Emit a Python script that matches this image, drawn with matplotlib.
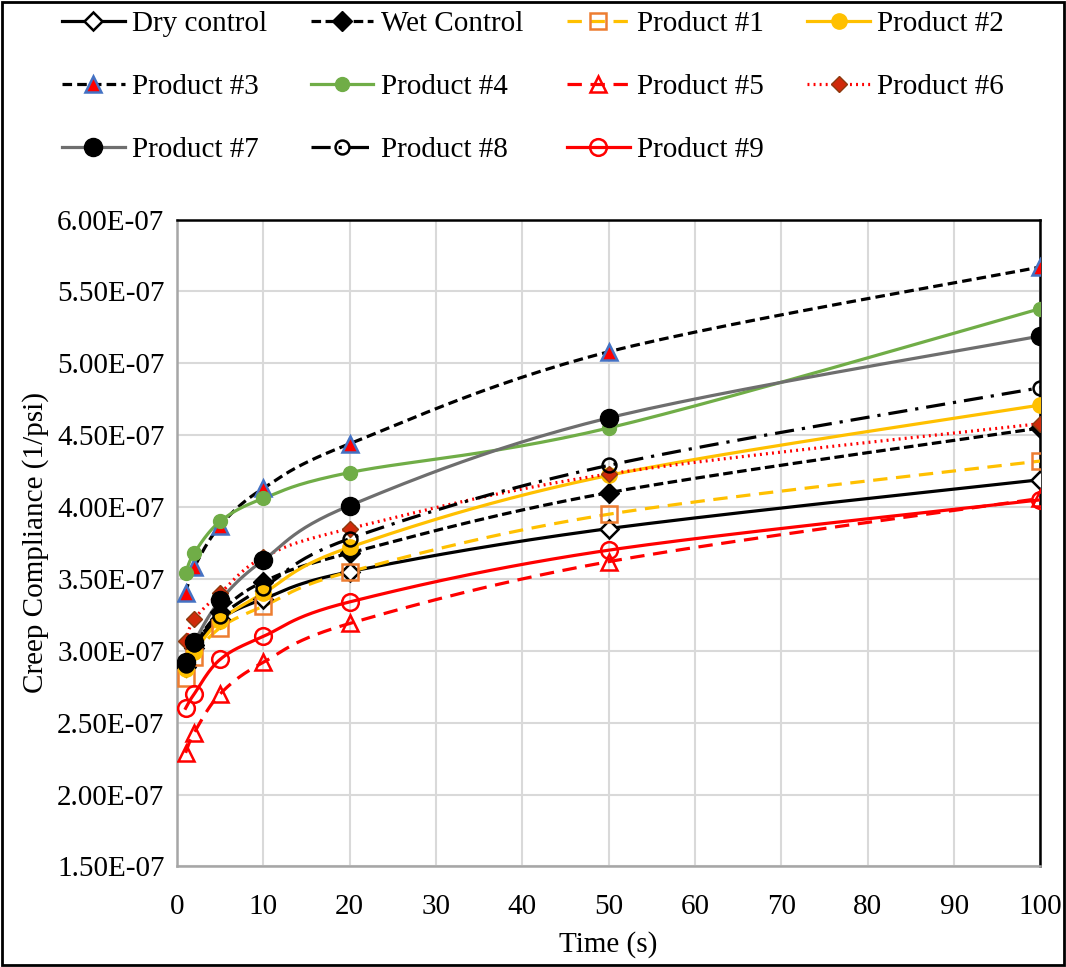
import matplotlib
matplotlib.use('Agg')
import matplotlib.pyplot as plt
import matplotlib.patches as patches
from matplotlib.lines import Line2D
from matplotlib.ticker import FuncFormatter, MultipleLocator
import numpy as np

plt.rcParams['font.family'] = ['Liberation Serif', 'DejaVu Serif']

time_s = [1, 2, 5, 10, 20, 50, 100]

# creep compliance, units of 1e-7 1/psi
dry_control = [2.89, 3.02, 3.22, 3.36, 3.55, 3.85, 4.19]
wet_control = [2.90, 3.04, 3.27, 3.48, 3.68, 4.10, 4.55]
product_1 = [2.81, 2.96, 3.16, 3.31, 3.55, 3.95, 4.32]
product_2 = [2.87, 2.99, 3.21, 3.40, 3.72, 4.22, 4.71]
product_3 = [3.40, 3.58, 3.87, 4.13, 4.44, 5.08, 5.67]
product_4 = [3.54, 3.68, 3.90, 4.06, 4.24, 4.55, 5.38]
product_5 = [2.29, 2.43, 2.70, 2.92, 3.19, 3.62, 4.06]
product_6 = [3.07, 3.22, 3.40, 3.65, 3.85, 4.23, 4.58]
product_7 = [2.92, 3.06, 3.35, 3.63, 4.01, 4.62, 5.19]
product_8 = [2.90, 3.05, 3.24, 3.44, 3.78, 4.29, 4.83]
product_9 = [2.60, 2.70, 2.94, 3.10, 3.34, 3.70, 4.05]

labels = ['Dry control', 'Wet Control', 'Product #1', 'Product #2', 'Product #3',
          'Product #4', 'Product #5', 'Product #6', 'Product #7', 'Product #8',
          'Product #9']
series = [dry_control, wet_control, product_1, product_2, product_3, product_4,
          product_5, product_6, product_7, product_8, product_9]


def smooth(x, y, n=30):
    # excel style smoothed line: catmull-rom bezier through the points
    x = np.asarray(x, float)
    y = np.asarray(y, float)
    px = np.concatenate([[x[0]], x, [x[-1]]])
    py = np.concatenate([[y[0]], y, [y[-1]]])
    t = np.linspace(0, 1, n)[:, None]
    xs, ys = [], []
    for i in range(1, len(px) - 2):
        p0 = np.array([px[i], py[i]])
        p3 = np.array([px[i + 1], py[i + 1]])
        c1 = p0 + (np.array([px[i + 1], py[i + 1]]) - np.array([px[i - 1], py[i - 1]])) / 6
        c2 = p3 - (np.array([px[i + 2], py[i + 2]]) - np.array([px[i], py[i]])) / 6
        b = ((1 - t) ** 3) * p0 + 3 * ((1 - t) ** 2) * t * c1 + 3 * (1 - t) * t ** 2 * c2 + t ** 3 * p3
        xs.append(b[:, 0])
        ys.append(b[:, 1])
    return np.concatenate(xs), np.concatenate(ys)


YEL = '#FFC000'
styles = [
    dict(color='black', ls='-', marker='D', ms=9, mfc='white', mec='black', mew=1.8),
    dict(color='black', ls=(0, (3, 1.4)), marker='D', ms=10, mfc='black', mec='black', mew=1),
    dict(color=YEL, ls=(0, (4.5, 2.7)), marker='s', ms=11, mfc='none', mec='#ED7D31', mew=1.8),
    dict(color=YEL, ls='-', marker='o', ms=11, mfc=YEL, mec=YEL, mew=1),
    dict(color='black', ls=(0, (3, 1.6)), marker='^', ms=11, mfc='#FF0000', mec='#4472C4', mew=1.8),
    dict(color='#70AD47', ls='-', marker='o', ms=10, mfc='#70AD47', mec='#70AD47', mew=1),
    dict(color='#FF0000', ls=(0, (4.5, 2.7)), marker='^', ms=11, mfc='none', mec='#FF0000', mew=1.8),
    dict(color='#FF0000', ls=(0, (0.6, 1.3)), marker='D', ms=8, mfc='#D02A0A', mec='#8B3A0F', mew=1),
    dict(color='#6E6E6E', ls='-', marker='o', ms=13, mfc='black', mec='black', mew=1),
    dict(color='black', ls=(0, (6, 2.5, 1, 2.5)), marker='o', ms=10, mfc='none', mec='black', mew=1.8),
    dict(color='#FF0000', ls='-', marker='o', ms=12, mfc='none', mec='#FF0000', mew=1.8),
]

fig = plt.figure(figsize=(10.66, 9.67), dpi=100)
ax = fig.add_axes([0.166, 0.104, 0.81, 0.669])

handles = []
for vals, st, lab in zip(series, styles, labels):
    sx, sy = smooth(time_s, vals)
    ax.plot(sx, np.array(sy) * 1e-7, color=st['color'], ls=st['ls'], lw=2.3, zorder=3)
    ax.plot(time_s, np.array(vals) * 1e-7, ls='none', marker=st['marker'], ms=st['ms'],
            mfc=st['mfc'], mec=st['mec'], mew=st['mew'], zorder=4)
    handles.append(Line2D([], [], color=st['color'], ls=st['ls'], lw=2.3, marker=st['marker'],
                          ms=st['ms'], mfc=st['mfc'], mec=st['mec'], mew=st['mew'], label=lab))

ax.set_xlim(0, 100)
ax.set_ylim(1.5e-7, 6.0e-7)
ax.xaxis.set_major_locator(MultipleLocator(10))
ax.yaxis.set_major_locator(MultipleLocator(0.5e-7))
ax.yaxis.set_major_formatter(FuncFormatter(lambda v, p: f'{v:.2E}'))
ax.grid(True, color='#D9D9D9', lw=1.5, zorder=0)
ax.set_axisbelow(True)
ax.tick_params(length=0, labelsize=21)
ax.tick_params(axis='x', pad=20)
ax.tick_params(axis='y', pad=9)
for s in ['left', 'bottom']:
    ax.spines[s].set_color('#A6A6A6')
    ax.spines[s].set_linewidth(1.8)
for s in ['top', 'right']:
    ax.spines[s].set_color('black')
    ax.spines[s].set_linewidth(1.8)
ax.set_xlabel('Time (s)', fontsize=21, labelpad=8)
ax.set_ylabel('Creep Compliance (1/psi)', fontsize=21, labelpad=6)

# legend fills column by column, so order it to read row by row
order = [0, 4, 8, 1, 5, 9, 2, 6, 10, 3, 7]
fig.legend(handles=[handles[i] for i in order], ncol=4, loc='upper center',
           bbox_to_anchor=(0.5, 1.016), frameon=False, fontsize=21, handlelength=2.15,
           handletextpad=0.25, columnspacing=1.5, labelspacing=1.25)

fig.add_artist(patches.Rectangle((0.002, 0.002), 0.996, 0.996, transform=fig.transFigure,
                                 fill=False, ec='black', lw=2))

fig.savefig('out.png', dpi=100)
